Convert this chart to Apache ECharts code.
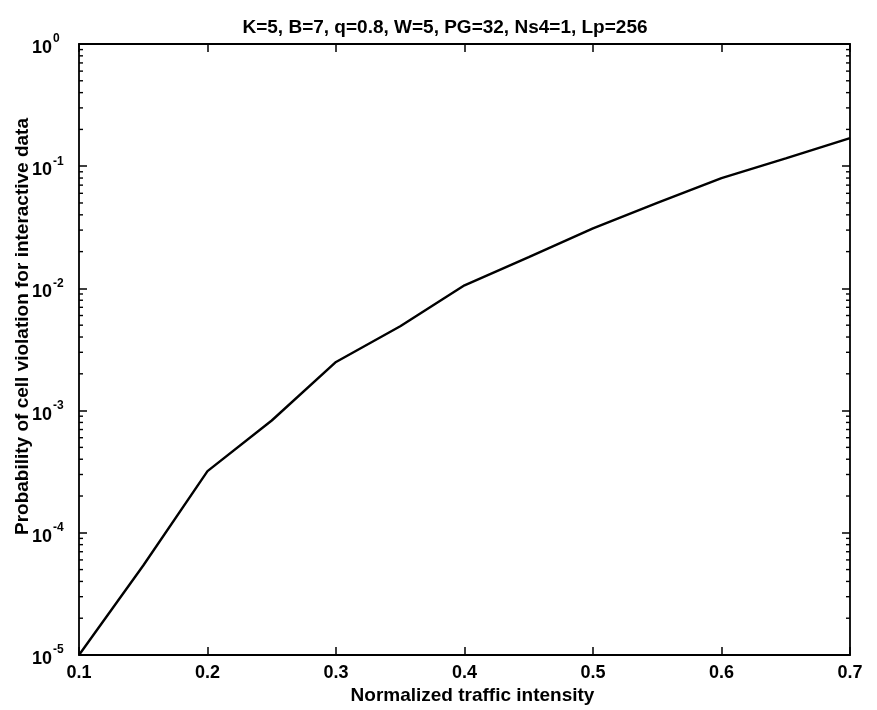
<!DOCTYPE html>
<html><head><meta charset="utf-8">
<script src="https://cdn.jsdelivr.net/npm/echarts@6/dist/echarts.min.js"></script>
<style>html,body{margin:0;padding:0;background:#fff}#c{width:877px;height:710px}</style>
</head><body><div id="c"></div>
<script>
const titleText = 'K=5, B=7, q=0.8, W=5, PG=32, Ns4=1, Lp=256';
const xAxisTitle = 'Normalized traffic intensity';
const yAxisTitle = 'Probability of cell violation for interactive data';
const intensity = [0.1, 0.15, 0.2, 0.25, 0.3, 0.35, 0.4, 0.45, 0.5, 0.55, 0.6, 0.65, 0.7];
const violationProb = [1e-5, 5.4e-5, 3.2e-4, 8.3e-4, 2.5e-3, 4.9e-3, 1.06e-2, 1.8e-2, 3.1e-2, 5.0e-2, 8.0e-2, 1.16e-1, 1.7e-1];
const xMin = 0.1, xMax = 0.7, xStep = 0.1;
const yMin = 1e-5, yMax = 1;
const minorMultipliers = [2, 3, 4, 5, 6, 7, 8, 9];

const FONT = '"Liberation Sans", Arial, Helvetica, sans-serif';
const chart = echarts.init(document.getElementById('c'), null, {renderer: 'canvas'});
const G = {left: 79, right: 27, top: 44, bottom: 55, containLabel: false, outerBoundsMode: 'none'};

const axisLine = {show: true, onZero: false, lineStyle: {color: '#000', width: 1.8}};
const data = intensity.map((x, i) => [x, violationProb[i]]);

chart.setOption({
  animation: false,
  backgroundColor: '#fff',
  title: {
    text: titleText, left: 440, top: 13, textAlign: 'center',
    textStyle: {fontFamily: FONT, fontSize: 19, fontWeight: 'bold', color: '#000'}
  },
  grid: G,
  xAxis: [{
    type: 'value', min: xMin, max: xMax, interval: xStep, position: 'bottom',
    axisLine, splitLine: {show: false},
    axisTick: {inside: true, length: 8, lineStyle: {color: '#000', width: 1.5}},
    axisLabel: {margin: 9, color: '#000', fontFamily: FONT, fontSize: 18, fontWeight: 'bold',
      formatter: v => v.toFixed(1)},
    name: xAxisTitle, nameLocation: 'middle', nameGap: 31, nameMoveOverlap: false,
    nameTextStyle: {fontFamily: FONT, fontSize: 19, fontWeight: 'bold', color: '#000', padding: [0, 0, 0, 16]}
  }, {
    type: 'value', min: xMin, max: xMax, interval: xStep, position: 'top',
    axisLine, splitLine: {show: false},
    axisTick: {inside: true, length: 8, lineStyle: {color: '#000', width: 1.5}},
    axisLabel: {show: false}
  }],
  yAxis: [{
    type: 'log', logBase: 10, min: yMin, max: yMax, position: 'left',
    axisLine, splitLine: {show: false},
    axisTick: {inside: true, length: 8, lineStyle: {color: '#000', width: 1.5}},
    axisLabel: {
      margin: 47, align: 'left', color: '#000',
      formatter: v => '{b|10}{s|' + Math.round(Math.log10(v)) + '}',
      rich: {
        b: {fontFamily: FONT, fontSize: 18, fontWeight: 'bold', color: '#000', padding: [8, 0, 0, 0]},
        s: {fontFamily: FONT, fontSize: 12, fontWeight: 'bold', color: '#000', padding: [0, 0, 10, 1]}
      }
    },
    name: yAxisTitle, nameLocation: 'middle', nameGap: 47, nameRotate: 90, nameMoveOverlap: false,
    nameTextStyle: {fontFamily: FONT, fontSize: 19, fontWeight: 'bold', color: '#000', padding: [0, 0, 0, 46]}
  }, {
    type: 'log', logBase: 10, min: yMin, max: yMax, position: 'right',
    axisLine, splitLine: {show: false},
    axisTick: {inside: true, length: 8, lineStyle: {color: '#000', width: 1.5}},
    axisLabel: {show: false}
  }],
  series: [{
    type: 'line', xAxisIndex: 0, yAxisIndex: 0, data,
    symbol: 'none', smooth: false,
    lineStyle: {color: '#000', width: 2.4}
  }]
});

// minor log ticks, positioned through the axis scale
const ticks = [];
const lx = chart.convertToPixel({xAxisIndex: 0}, xMin);
const rx = chart.convertToPixel({xAxisIndex: 0}, xMax);
for (let e = Math.round(Math.log10(yMin)); e < Math.round(Math.log10(yMax)); e++) {
  minorMultipliers.forEach(m => {
    const y = chart.convertToPixel({yAxisIndex: 0}, m * Math.pow(10, e));
    ticks.push({type: 'line', shape: {x1: lx, y1: y, x2: lx + 4, y2: y}, style: {stroke: '#000', lineWidth: 1.4}, silent: true});
    ticks.push({type: 'line', shape: {x1: rx - 4, y1: y, x2: rx, y2: y}, style: {stroke: '#000', lineWidth: 1.4}, silent: true});
  });
}
chart.setOption({graphic: ticks});
</script>
</body></html>
